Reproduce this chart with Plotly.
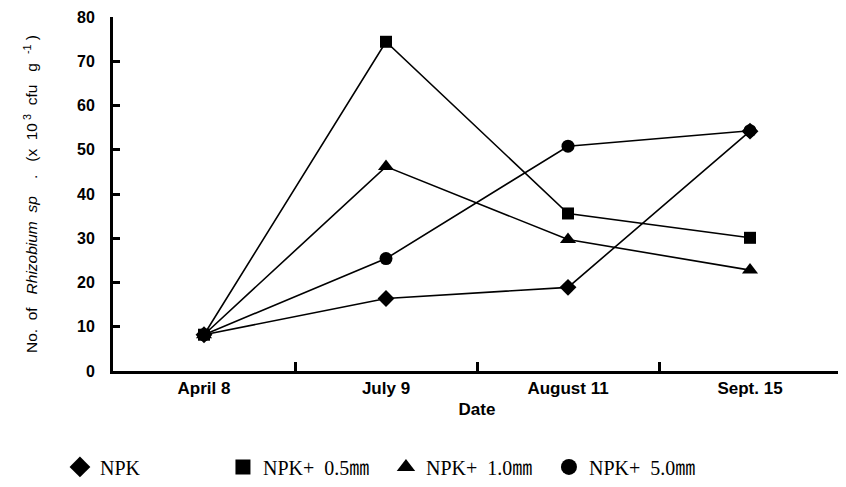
import plotly.graph_objects as go

dates = ["April 8", "July 9", "August 11", "Sept. 15"]
npk = [8.2, 16.4, 18.9, 54.2]
npk_05 = [8.2, 74.4, 35.6, 30.1]
npk_10 = [8.2, 46.2, 29.7, 22.8]
npk_50 = [8.2, 25.4, 50.8, 54.3]
y_ticks = [0, 10, 20, 30, 40, 50, 60, 70, 80]

series = [
    ("NPK", npk, "diamond", 13),
    ("NPK+  0.5㎜", npk_05, "square", 12),
    ("NPK+  1.0㎜", npk_10, "triangle-up", 14),
    ("NPK+  5.0㎜", npk_50, "circle", 13),
]

fig = go.Figure()
for name, vals, sym, sz in series:
    fig.add_trace(go.Scatter(
        x=dates, y=vals, name=name, mode="lines+markers",
        line=dict(color="black", width=1.6),
        marker=dict(symbol=sym, size=sz, color="black"),
        showlegend=False,
    ))
for name, vals, sym, sz in series:
    fig.add_trace(go.Scatter(
        x=[None], y=[None], name=name, mode="markers",
        marker=dict(symbol=sym, size=sz + 3, color="black"),
        showlegend=True,
    ))

fig.update_layout(
    width=838, height=479,
    margin=dict(l=105, r=5, t=9, b=116, autoexpand=False),
    plot_bgcolor="white", paper_bgcolor="white",
    font=dict(family="Liberation Sans, Arial", color="black"),
    legend=dict(
        orientation="h", xref="container", yref="container",
        x=0.062, y=0.042, xanchor="left", yanchor="middle",
        font=dict(family="Liberation Serif, Noto Sans CJK KR, serif", size=20, color="black"),
        itemwidth=30, tracegroupgap=0, entrywidth=118,
    ),
)
fig.update_xaxes(
    type="category", range=[-0.5, 3.5], automargin=False,
    showline=True, linecolor="black", linewidth=3,
    ticks="inside", tickson="boundaries", ticklen=9, tickwidth=3, tickcolor="black",
    tickfont=dict(size=17, family="Liberation Sans, Arial"),
    tickvals=dates, ticktext=["<b>%s</b>" % d for d in dates],
    title=dict(text="<b>Date</b>", font=dict(size=17), standoff=6),
    showgrid=False, zeroline=False,
)
fig.update_yaxes(
    range=[0, 80], tickvals=y_ticks, automargin=False,
    ticktext=["<b>%d</b>" % v for v in y_ticks],
    showline=True, linecolor="black", linewidth=3,
    ticks="inside", ticklen=7, tickwidth=3, tickcolor="black",
    tickfont=dict(size=16), ticklabelstandoff=12, ticklabeloverflow="allow",
    title=dict(text="No.  of   <i>Rhizobium  sp</i>    .   (x  10<sup> 3</sup>  cfu   g<sup>   -1</sup> )",
               font=dict(size=15.5), standoff=36),
    showgrid=False, zeroline=False,
)

fig.write_html("out.html")
